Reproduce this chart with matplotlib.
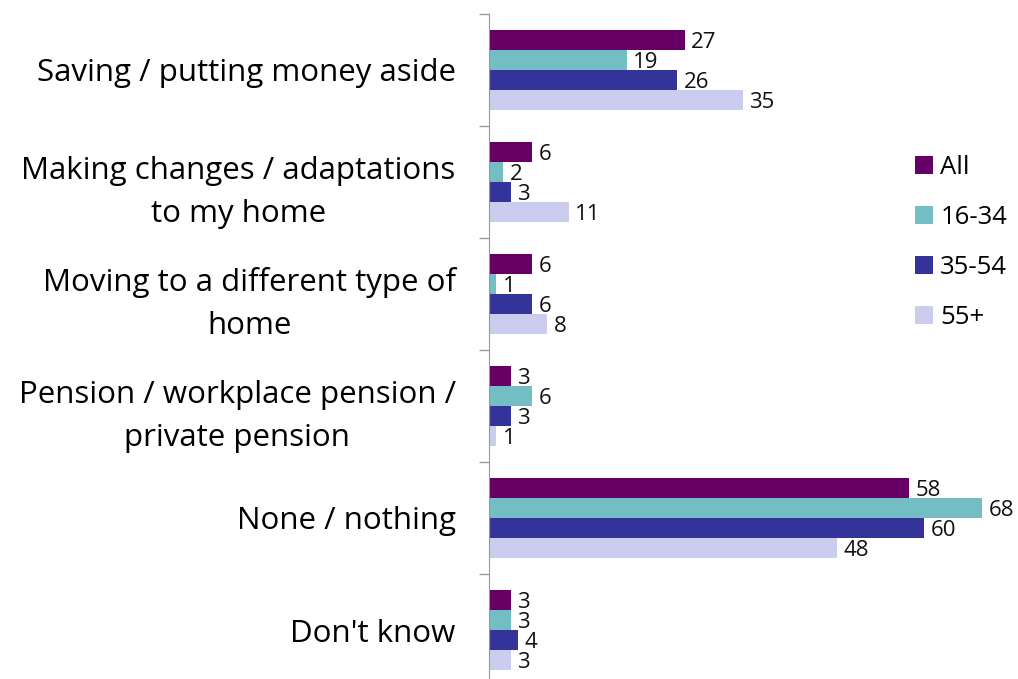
import numpy as np
import matplotlib.pyplot as plt

plt.rcParams['font.family'] = ['Open Sans', 'DejaVu Sans']

categories = [
    "Saving / putting money aside",
    "Making changes / adaptations\nto my home",
    "Moving to a different type of\nhome",
    "Pension / workplace pension /\nprivate pension",
    "None / nothing",
    "Don't know",
]
series_names = ["All", "16-34", "35-54", "55+"]
all_vals = [27, 6, 6, 3, 58, 3]
age_16_34 = [19, 2, 1, 6, 68, 3]
age_35_54 = [26, 3, 6, 3, 60, 4]
age_55_plus = [35, 11, 8, 1, 48, 3]
colors = ["#660066", "#72BEC4", "#333399", "#CCCCEE"]

fig = plt.figure(figsize=(10.18, 6.79), dpi=100)
ax = fig.add_axes([489 / 1018, 1 - 686 / 679, 1 - 489 / 1018, 672 / 679])

bar_h = 20 / 112
y = np.arange(len(categories))
series = [all_vals, age_16_34, age_35_54, age_55_plus]
for k, (vals, name, col) in enumerate(zip(series, series_names, colors)):
    pos = y + (k - 1.5) * bar_h
    ax.barh(pos, vals, height=bar_h, color=col, label=name)
    for p, v in zip(pos, vals):
        ax.text(v + 0.9, p + 0.02, str(v), va="center", ha="left",
                fontsize=16, color="#111111")

ax.set_xlim(0, 73)
ax.set_ylim(len(categories) - 0.5, -0.5)
ax.set_yticks(y)
ax.set_yticklabels(categories, fontsize=22.5, multialignment="center",
                   linespacing=1.58)
ax.set_yticks(np.arange(-0.5, len(categories)), minor=True)
ax.tick_params(axis="y", which="major", length=0, pad=24)
ax.tick_params(axis="y", which="minor", length=7, color="#999999", width=1)
ax.set_xticks([])
for s in ["top", "right", "bottom"]:
    ax.spines[s].set_visible(False)
ax.spines["left"].set_color("#999999")

ax.legend(loc="upper left", bbox_to_anchor=(0.785, 0.806), frameon=False,
          fontsize=18.5, handlelength=0.7, handleheight=0.7,
          labelspacing=0.98, handletextpad=0.3, borderpad=0.4,
          borderaxespad=0)

fig.savefig("out.png", dpi=100)
